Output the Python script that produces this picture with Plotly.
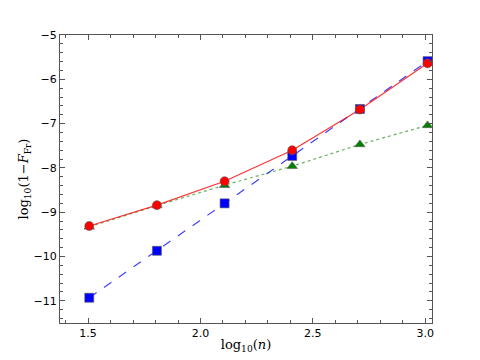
import numpy as np
import plotly.graph_objects as go

# data (x = log10 n for n = 32 ... 1024)
n_values = [32, 64, 128, 256, 512, 1024]
log_n = list(np.log10(n_values))

red_circles = [-9.31, -8.84, -8.30, -7.60, -6.68, -5.64]
blue_squares = [-10.93, -9.87, -8.80, -7.73, -6.67, -5.59]
green_triangles = [-9.33, -8.85, -8.39, -7.96, -7.47, -7.04]

x_ticks = [1.5, 2.0, 2.5, 3.0]
y_ticks = [-5, -6, -7, -8, -9, -10, -11]

fig = go.Figure()

# lines first (semi transparent, like the matplotlib alpha), markers on top
series = [
    (blue_squares, 'rgba(0,0,255,0.75)', 'dash', 'square', 'blue'),
    (green_triangles, 'rgba(0,128,0,0.6)', 'dot', 'triangle-up', 'green'),
    (red_circles, 'rgba(255,0,0,0.8)', 'solid', 'circle', 'red'),
]
for ys, lc, dash, sym, mc in series:
    fig.add_trace(go.Scatter(
        x=log_n, y=ys, mode='lines',
        line=dict(color=lc, width=1.2, dash=dash),
        showlegend=False, hoverinfo='skip'))
for ys, lc, dash, sym, mc in series:
    fig.add_trace(go.Scatter(
        x=log_n, y=ys, mode='markers',
        marker=dict(symbol=sym, color=mc, size=9,
                    line=dict(color='rgba(90,90,90,0.6)', width=1)),
        showlegend=False))

axis_common = dict(
    showgrid=False, zeroline=False, showline=True, mirror='allticks',
    linecolor='#555555', linewidth=1.3, automargin=False,
    ticks='inside', ticklen=5, tickcolor='#555555', tickwidth=1,
    tickfont=dict(family='DejaVu Sans', size=11, color='black'),
)

# page body has an 8px margin, so the figure is a bit smaller than the window
fig.update_layout(
    width=472, height=352,
    margin=dict(l=52, r=48, t=27, b=37),
    paper_bgcolor='white', plot_bgcolor='white',
    xaxis=dict(
        range=[1.375, 3.03], tickvals=x_ticks, ticktext=['1.5', '2.0', '2.5', '3.0'],
        minor=dict(dtick=0.1, tick0=1.5, ticks='inside', ticklen=3, tickcolor='#555555'),
        title=dict(text='log<sub>10</sub>(<i>n</i>)', standoff=0,
                   font=dict(family='DejaVu Serif', size=13, color='black')),
        **axis_common),
    yaxis=dict(
        range=[-11.5, -5], tickvals=y_ticks,
        minor=dict(dtick=0.2, tick0=-5, ticks='inside', ticklen=3, tickcolor='#555555'),
        title=dict(text='log<sub>10</sub>(1\u2212<i>F</i><sub>Fr</sub>)', standoff=1,
                   font=dict(family='DejaVu Serif', size=13, color='black')),
        **axis_common),
)

fig.write_html("out.html")
